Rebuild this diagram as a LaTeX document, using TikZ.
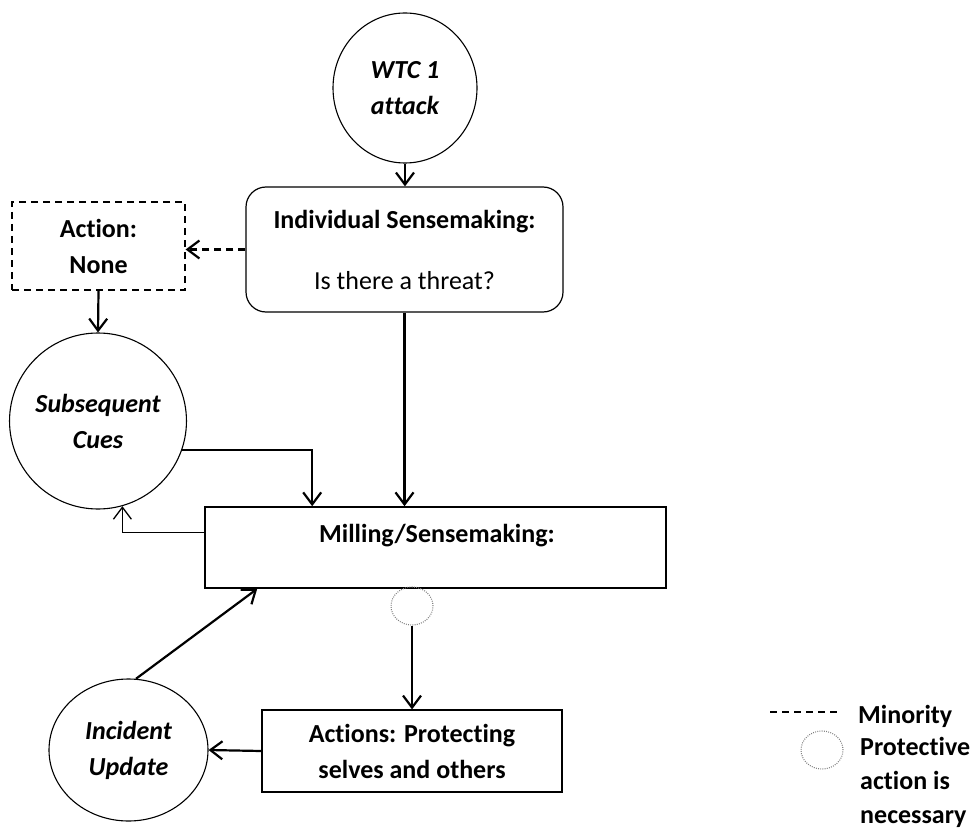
\documentclass[tikz,border=0pt]{standalone}
\usepackage{fontspec}
\setmainfont[Ligatures=NoCommon]{Carlito}
\usetikzlibrary{arrows.meta,shapes.geometric,calc}
\begin{document}
\begin{tikzpicture}[x=1pt,y=-1pt,
  txt/.style={font=\fontsize{26}{36}\selectfont\bfseries, align=center, text=black},
  bubble/.style={ellipse, draw, line width=1.1pt, inner sep=0pt, align=center,
    font=\fontsize{26}{36}\selectfont\bfseries\itshape},
  box/.style={draw, line width=1.2pt, inner sep=0pt, txt},
  minority/.style={dash pattern=on 7pt off 5pt},
  marker/.style={ellipse, draw=gray, dash pattern=on 0.9pt off 1.3pt, line width=1.1pt, inner sep=0pt,
    minimum width=42pt, minimum height=38pt},
  flow/.style={line width=2.2pt, -{Straight Barb[length=12pt,width=18pt]}},
]
\useasboundingbox (0,0) rectangle (976,834);

% shapes
\node[bubble, minimum width=144pt, minimum height=150pt] (wtc) at (405,88) {WTC 1\\attack};
\node[box, rounded corners=20pt, minimum width=317pt, minimum height=125pt] (ind) at (404.5,249.5)
  {Individual Sensemaking:\\[25pt]{\mdseries Is there a threat?}};
\node[box, minority, minimum width=173pt, minimum height=88pt] (none) at (98.5,246) {Action:\\None};
\node[bubble, minimum width=174pt, minimum height=176pt] (cues) at (98,421) {Subsequent\\Cues};
\node[draw, line width=1.6pt, minimum width=461pt, minimum height=81pt, inner sep=0pt] (mill) at (435.5,547.5) {};
\node[txt, anchor=base] (milltxt) at (437,542) {Milling/Sensemaking:};
\node[marker] (chk) at (412,606) {};
\node[box, minimum width=300pt, minimum height=82pt] (act) at (412,751) {Actions: Protecting\\selves and others};
\node[bubble, minimum width=159pt, minimum height=142pt] (inc) at (128.5,750) {Incident\\Update};

% connectors
\draw[flow] (wtc.south) -- (wtc.south |- ind.north);
\draw[flow, minority] (ind.west) -- (ind.west -| none.east);
\draw[flow] (none.south) -- (cues.north);
\draw[flow] (cues.-19.5) -| ($(mill.north west)+(108,0)$);
\draw[flow] (ind.south) -- (ind.south |- mill.north);
\draw[flow, line width=1.3pt] ($(mill.north west)+(0,26)$) -| (cues.-74);
\draw[flow] (chk.south) -- (act.north);
\draw[flow] (act.west) -- (inc.east);
\coordinate (millin) at ($(mill.south west)+(53,0)$);
\draw[flow] (inc.84) -- (millin);

% legend
\coordinate (ms) at (770,712);
\coordinate (me) at (840,712);
\draw[minority, line width=1.2pt] (ms) -- (me);
\node[txt, anchor=base west, inner sep=0pt] (lmin) at (858,723) {Minority};
\node[marker] (lchk) at (822,750) {};
\node[txt, anchor=base west, inner sep=0pt, align=left, font=\fontsize{26}{34}\selectfont\bfseries] (lprot) at (860,823)
  {Protective\\action is\\necessary};
\end{tikzpicture}
\end{document}
